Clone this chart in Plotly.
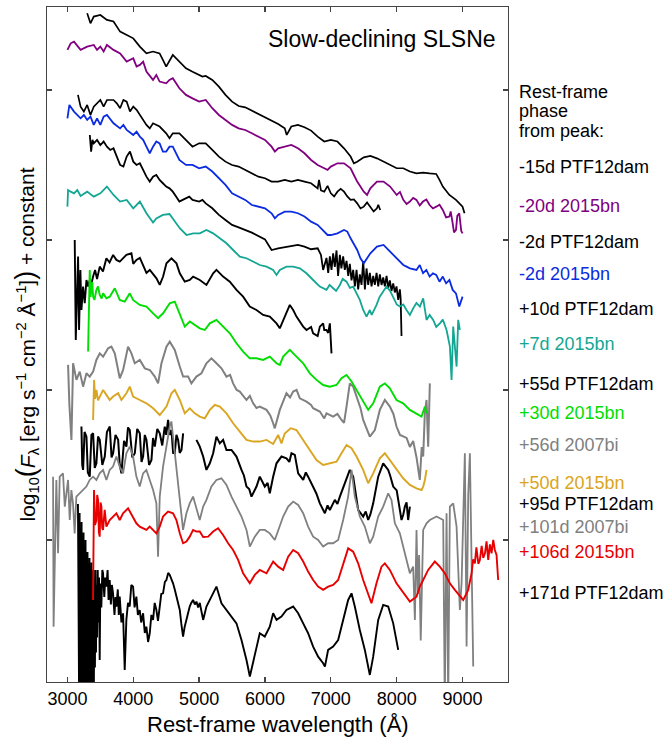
import plotly.graph_objects as go

# ---------------- data: rest-frame wavelength (A) and log10 flux + constant ----------------
# PTF12dam -15d
WL_P_M15 = [3300, 3350, 3400, 3500, 3600, 3700, 3800, 3900, 4000, 4100, 4200, 4300, 4400, 4450, 4500, 4600, 4700, 4800, 4900, 5000,
            5050, 5100, 5200, 5300, 5400, 5500, 5600, 5700, 5800, 5900, 6000, 6100, 6200, 6300, 6330, 6400, 6500, 6600, 6700, 6800,
            6900, 7000, 7100, 7200, 7300, 7350, 7400, 7500, 7600, 7700, 7800, 7900, 8000, 8100, 8200, 8300, 8400, 8500, 8600, 8650,
            8700, 8800, 8900, 9000, 9030]
FL_P_M15 = [3.511, 3.444, 3.489, 3.5, 3.467, 3.456, 3.389, 3.367, 3.344, 3.289, 3.244, 3.256, 3.244, 3.2, 3.156, 3.233, 3.189, 3.144, 3.122, 3.1,
            3.089, 3.093, 3.067, 3.022, 2.967, 2.922, 2.893, 2.884, 2.862, 2.84, 2.822, 2.8, 2.773, 2.744, 2.7, 2.756, 2.767, 2.751, 2.729, 2.689,
            2.656, 2.667, 2.656, 2.611, 2.556, 2.511, 2.522, 2.551, 2.56, 2.544, 2.522, 2.5, 2.478, 2.478, 2.456, 2.444, 2.449, 2.444, 2.44, 2.4,
            2.356, 2.3, 2.267, 2.222, 2.178]

# SN 2015bn -20d
WL_B_M20 = [3000, 3050, 3100, 3200, 3300, 3400, 3450, 3500, 3550, 3600, 3700, 3800, 3900, 4000, 4050, 4100, 4150, 4200, 4300, 4350,
            4400, 4500, 4550, 4600, 4700, 4800, 4900, 5000, 5100, 5200, 5300, 5400, 5500, 5600, 5700, 5800, 5900, 6000, 6100, 6150,
            6200, 6300, 6400, 6500, 6600, 6700, 6800, 6900, 6950, 7000, 7100, 7200, 7300, 7350, 7400, 7500, 7550, 7600, 7700, 7800,
            7900, 8000, 8050, 8100, 8150, 8200, 8250, 8300, 8350, 8400, 8450, 8500, 8550, 8600, 8650, 8700, 8750, 8800, 8820, 8850,
            8870, 8900, 8920, 8950, 8980, 9000]
FL_B_M20 = [3.267, 3.311, 3.322, 3.267, 3.289, 3.3, 3.267, 3.289, 3.256, 3.3, 3.267, 3.244, 3.189, 3.211, 3.156, 3.167, 3.189, 3.122, 3.067, 3.1,
            3.056, 3.044, 3.067, 3.078, 3.011, 2.967, 2.944, 2.922, 2.933, 2.878, 2.833, 2.8, 2.767, 2.744, 2.733, 2.711, 2.689, 2.667, 2.622, 2.589,
            2.611, 2.622, 2.633, 2.611, 2.578, 2.533, 2.5, 2.478, 2.467, 2.489, 2.511, 2.511, 2.478, 2.433, 2.389, 2.322, 2.3, 2.344, 2.389, 2.389,
            2.356, 2.3, 2.32, 2.267, 2.24, 2.256, 2.28, 2.267, 2.23, 2.256, 2.27, 2.233, 2.21, 2.222, 2.235, 2.2, 2.15, 2.156, 2.19, 2.111,
            2.05, 2.067, 2.16, 2.178, 2.06, 2.044]

# PTF12dam -2d
WL_P_M2 = [3160, 3200, 3250, 3300, 3350, 3400, 3500, 3550, 3600, 3700, 3750, 3800, 3850, 3900, 3950, 4000, 4050, 4100, 4200, 4250,
           4300, 4400, 4500, 4550, 4600, 4700, 4800, 4900, 5000, 5100, 5200, 5300, 5400, 5500, 5600, 5700, 5800, 5900, 6000, 6100,
           6200, 6300, 6400, 6500, 6600, 6700, 6800, 6820, 6850, 6900, 6950, 7000, 7050, 7100, 7150, 7200, 7250, 7300, 7350, 7400,
           7450, 7500, 7550, 7600, 7650, 7700, 7720, 7750]
FL_P_M2 = [2.967, 2.889, 2.856, 2.9, 2.833, 2.889, 2.933, 2.889, 2.933, 2.933, 2.911, 2.878, 2.933, 2.922, 2.856, 2.889, 2.867, 2.833, 2.767, 2.744,
           2.778, 2.756, 2.711, 2.678, 2.711, 2.711, 2.667, 2.622, 2.644, 2.644, 2.6, 2.556, 2.522, 2.5, 2.489, 2.467, 2.444, 2.422, 2.411, 2.389,
           2.389, 2.4, 2.389, 2.4, 2.389, 2.378, 2.344, 2.40, 2.33, 2.322, 2.36, 2.311, 2.29, 2.322, 2.34, 2.322, 2.29, 2.267, 2.27, 2.244,
           2.21, 2.222, 2.25, 2.222, 2.19, 2.211, 2.235, 2.2]

# SN 2015bn -2d
WL_B_M2 = [3000, 3030, 3100, 3200, 3250, 3300, 3350, 3400, 3450, 3500, 3550, 3600, 3700, 3800, 3850, 3900, 4000, 4050, 4100, 4150,
           4200, 4250, 4300, 4350, 4400, 4450, 4500, 4550, 4600, 4700, 4800, 4900, 5000, 5100, 5200, 5300, 5400, 5500, 5600, 5700,
           5800, 5900, 6000, 6100, 6150, 6200, 6300, 6400, 6500, 6600, 6700, 6800, 6900, 6950, 7000, 7100, 7200, 7250, 7300, 7400,
           7450, 7500, 7550, 7600, 7700, 7800, 7900, 8000, 8050, 8100, 8150, 8200, 8300, 8350, 8400, 8450, 8500, 8550, 8600, 8650,
           8700, 8750, 8800, 8850, 8900, 8950, 9000]
FL_B_M2 = [2.811, 2.9, 2.856, 2.811, 2.833, 2.8, 2.822, 2.767, 2.811, 2.767, 2.822, 2.833, 2.778, 2.744, 2.767, 2.733, 2.7, 2.722, 2.689, 2.667,
           2.622, 2.578, 2.622, 2.656, 2.644, 2.589, 2.589, 2.622, 2.622, 2.533, 2.5, 2.5, 2.478, 2.489, 2.456, 2.411, 2.367, 2.311, 2.289, 2.267,
           2.233, 2.222, 2.211, 2.178, 2.144, 2.167, 2.189, 2.189, 2.178, 2.156, 2.122, 2.1, 2.056, 2.033, 2.033, 2.044, 2.067, 2.056, 2.011, 1.933,
           1.878, 1.844, 1.878, 1.911, 1.956, 1.967, 1.922, 1.878, 1.856, 1.833, 1.822, 1.811, 1.8, 1.833, 1.778, 1.8, 1.756, 1.778, 1.767, 1.722,
           1.756, 1.711, 1.733, 1.667, 1.644, 1.556, 1.622]

# PTF12dam +10d
WL_P_P10 = [3340, 3360, 3380, 3400, 3450, 3500, 3550, 3600, 3650, 3700, 3750, 3800, 3850, 3900, 3950, 4000, 4050, 4100, 4150, 4200,
            4250, 4300, 4350, 4400, 4450, 4500, 4550, 4600, 4650, 4700, 4750, 4800, 4850, 4900, 5000, 5050, 5100, 5200, 5300, 5400,
            5500, 5600, 5800, 6000, 6100, 6200, 6300, 6400, 6500, 6600, 6700, 6800, 6850, 6883, 6934, 6960, 6985, 7010, 7035, 7060,
            7086, 7110, 7137, 7160, 7187, 7212, 7238, 7264, 7288, 7314, 7339, 7365, 7390, 7415, 7440, 7466, 7491, 7517, 7542, 7567,
            7592, 7618, 7643, 7668, 7694, 7720, 7744, 7770, 7795, 7820, 7846, 7871, 7896, 7921, 7947, 7972, 7997, 8023, 8048, 8060,
            8073]
FL_P_P10 = [2.7, 2.589, 2.667, 2.644, 2.667, 2.633, 2.656, 2.622, 2.6, 2.611, 2.556, 2.5, 2.489, 2.556, 2.589, 2.522, 2.5, 2.511, 2.467, 2.422,
            2.389, 2.422, 2.433, 2.4, 2.378, 2.356, 2.344, 2.322, 2.289, 2.256, 2.267, 2.278, 2.289, 2.267, 2.256, 2.267, 2.244, 2.211, 2.167, 2.133,
            2.1, 2.084, 2.049, 2.004, 1.933, 1.944, 1.951, 1.96, 1.967, 1.956, 1.938, 1.944, 1.90, 1.80, 1.88, 1.78, 1.89, 1.80, 1.91, 1.82,
            1.93, 1.76, 1.90, 1.81, 1.89, 1.80, 1.86, 1.76, 1.84, 1.73, 1.80, 1.69, 1.80, 1.67, 1.77, 1.70, 1.86, 1.67, 1.81, 1.70,
            1.78, 1.69, 1.76, 1.70, 1.78, 1.69, 1.77, 1.70, 1.75, 1.69, 1.76, 1.68, 1.73, 1.66, 1.71, 1.65, 1.69, 1.60, 1.67, 1.61,
            1.36]

# SN 2015bn +7d
WL_B_P7 = [3000, 3010, 3050, 3100, 3150, 3200, 3300, 3400, 3500, 3600, 3700, 3800, 3900, 3950, 4000, 4100, 4200, 4300, 4350, 4450,
           4550, 4706, 4808, 4909, 5010, 5111, 5213, 5314, 5415, 5516, 5618, 5719, 5820, 5921, 6023, 6124, 6175, 6225, 6326, 6428,
           6529, 6630, 6731, 6833, 6934, 6980, 7035, 7080, 7137, 7180, 7238, 7290, 7339, 7440, 7491, 7542, 7592, 7620, 7694, 7740,
           7795, 7846, 7900, 7947, 8000, 8048, 8100, 8149, 8200, 8250, 8300, 8352, 8402, 8453, 8500, 8554, 8600, 8656, 8700, 8757,
           8808, 8833, 8858, 8909, 8934, 8959]
FL_B_P7 = [2.222, 2.333, 2.322, 2.311, 2.333, 2.293, 2.322, 2.289, 2.311, 2.356, 2.3, 2.256, 2.267, 2.24, 2.211, 2.256, 2.178, 2.116, 2.144, 2.167,
           2.173, 2.078, 2.033, 2.044, 2.044, 2.067, 2.044, 2.011, 1.978, 1.933, 1.889, 1.878, 1.856, 1.833, 1.822, 1.8, 1.767, 1.8, 1.822, 1.822,
           1.811, 1.778, 1.733, 1.689, 1.667, 1.70, 1.678, 1.66, 1.7, 1.74, 1.722, 1.68, 1.689, 1.6, 1.533, 1.489, 1.533, 1.50, 1.567, 1.62,
           1.656, 1.689, 1.66, 1.622, 1.57, 1.556, 1.57, 1.533, 1.50, 1.544, 1.58, 1.556, 1.611, 1.467, 1.50, 1.467, 1.42, 1.444, 1.47, 1.4,
           1.289, 1.067, 1.422, 1.156, 1.467, 1.4]

# PTF12dam +55d
WL_P_P55 = [3111, 3127, 3162, 3177, 3197, 3213, 3238, 3263, 3289, 3314, 3339, 3360, 3390, 3420, 3450, 3491, 3540, 3592, 3640, 3694,
            3744, 3795, 3896, 3972, 4000, 4048, 4100, 4149, 4200, 4251, 4352, 4402, 4453, 4504, 4580, 4656, 4706, 4782, 4858, 4909,
            5010, 5111, 5213, 5263, 5364, 5466, 5567, 5668, 5769, 5871, 5972, 6073, 6175, 6225, 6276, 6377, 6428, 6478, 6580, 6630,
            6700, 6731, 6800, 6833, 6883, 6900, 6934, 6960, 6985, 7010]
FL_P_P55 = [2.0, 1.333, 1.889, 1.4, 1.8, 1.533, 1.689, 1.578, 1.733, 1.689, 1.733, 1.70, 1.756, 1.80, 1.74, 1.822, 1.79, 1.878, 1.85, 1.9,
            1.867, 1.856, 1.9, 1.911, 1.84, 1.867, 1.88, 1.833, 1.78, 1.8, 1.744, 1.7, 1.756, 1.844, 1.878, 1.844, 1.778, 1.722, 1.733, 1.756,
            1.733, 1.7, 1.778, 1.8, 1.756, 1.722, 1.667, 1.622, 1.556, 1.533, 1.5, 1.489, 1.444, 1.411, 1.467, 1.567, 1.533, 1.489, 1.422, 1.4,
            1.42, 1.378, 1.36, 1.422, 1.444, 1.40, 1.4, 1.38, 1.444, 1.244]

# SN 2015bn +30d
WL_B_P30 = [3314, 3339, 3352, 3365, 3378, 3390, 3410, 3440, 3465, 3491, 3520, 3542, 3592, 3643, 3719, 3795, 3871, 3947, 3997, 4099,
            4200, 4301, 4377, 4453, 4554, 4630, 4706, 4782, 4858, 4934, 5010, 5086, 5162, 5263, 5364, 5466, 5567, 5668, 5769, 5871,
            5972, 6073, 6175, 6225, 6276, 6377, 6478, 6580, 6681, 6782, 6883, 6985, 7086, 7162, 7238, 7314, 7390, 7491, 7567, 7643,
            7744, 7820, 7896, 7997, 8098, 8200, 8301, 8377, 8428, 8453]
FL_B_P30 = [1.256, 1.8, 1.62, 1.689, 1.72, 1.622, 1.60, 1.667, 1.69, 1.633, 1.61, 1.644, 1.611, 1.622, 1.678, 1.6, 1.589, 1.644, 1.6, 1.567,
            1.556, 1.511, 1.478, 1.511, 1.578, 1.589, 1.511, 1.422, 1.456, 1.433, 1.411, 1.4, 1.444, 1.467, 1.422, 1.378, 1.311, 1.256, 1.211, 1.211,
            1.2, 1.222, 1.178, 1.167, 1.222, 1.267, 1.222, 1.178, 1.111, 1.067, 1.033, 1.022, 1.033, 1.078, 1.1, 1.056, 1.0, 0.922, 0.867, 0.911,
            1.022, 1.044, 1.011, 0.933, 0.911, 0.867, 0.844, 0.822, 0.889, 0.844]

# SN 2007bi +56d
WL_I_P56 = [3010, 3030, 3061, 3086, 3137, 3187, 3238, 3289, 3339, 3390, 3440, 3491, 3542, 3618, 3668, 3719, 3795, 3846, 3921, 3972,
            4023, 4099, 4175, 4251, 4327, 4377, 4428, 4504, 4554, 4630, 4706, 4757, 4833, 4883, 4959, 5035, 5111, 5187, 5263, 5339,
            5415, 5470, 5516, 5570, 5618, 5719, 5770, 5820, 5870, 5921, 6023, 6080, 6124, 6149, 6225, 6326, 6380, 6428, 6480, 6529,
            6630, 6700, 6731, 6833, 6900, 6934, 7035, 7100, 7162, 7200, 7238, 7288, 7339, 7415, 7450, 7491, 7550, 7592, 7668, 7744,
            7820, 7896, 7950, 7997, 8050, 8098, 8150, 8200, 8250, 8301, 8351, 8380, 8402, 8427, 8453, 8478, 8503]
FL_I_P56 = [1.167, 0.9, 0.667, 1.178, 1.067, 1.122, 1.022, 1.111, 1.089, 1.122, 1.2, 1.244, 1.222, 1.278, 1.289, 1.244, 1.078, 1.133, 1.289, 1.244,
            1.178, 1.2, 1.144, 1.133, 1.089, 1.044, 1.178, 1.289, 1.322, 1.267, 1.156, 1.089, 1.089, 1.044, 1.089, 1.111, 1.178, 1.211, 1.178, 1.144,
            1.089, 1.10, 1.044, 1.00, 0.989, 0.933, 0.96, 0.911, 0.88, 0.889, 0.867, 0.83, 0.778, 0.744, 0.867, 0.978, 0.95, 0.989, 1.00, 0.944,
            0.922, 0.90, 0.878, 0.856, 0.81, 0.844, 0.822, 0.84, 0.8, 0.78, 0.889, 1.044, 1.022, 0.933, 0.88, 0.8, 0.74, 0.689, 0.733, 0.867,
            0.933, 0.889, 0.84, 0.756, 0.70, 0.689, 0.68, 0.62, 0.66, 0.55, 0.40, 0.62, 0.556, 0.844, 0.933, 0.622, 1.044]

# SN 2015bn +50d
WL_B_P50 = [3390, 3405, 3420, 3440, 3465, 3491, 3542, 3592, 3643, 3694, 3770, 3820, 3896, 3947, 3997, 4099, 4200, 4301, 4402, 4504,
            4580, 4630, 4706, 4782, 4858, 4934, 5010, 5086, 5162, 5238, 5314, 5415, 5516, 5618, 5719, 5820, 5921, 6023, 6124, 6200,
            6250, 6300, 6390, 6478, 6580, 6681, 6782, 6883, 6985, 7086, 7162, 7238, 7314, 7390, 7491, 7567, 7643, 7744, 7820, 7896,
            7997, 8098, 8200, 8301, 8377, 8402, 8428, 8453]
FL_B_P50 = [0.8, 1.067, 0.94, 1.0, 0.93, 0.956, 1.0, 0.967, 0.933, 0.956, 0.978, 0.933, 0.978, 1.022, 0.956, 0.933, 0.911, 0.878, 0.833, 0.889,
            0.978, 1.0, 0.933, 0.844, 0.878, 0.844, 0.822, 0.811, 0.867, 0.9, 0.889, 0.844, 0.778, 0.722, 0.667, 0.656, 0.656, 0.667, 0.64, 0.70,
            0.644, 0.71, 0.745, 0.733, 0.667, 0.6, 0.533, 0.5, 0.511, 0.522, 0.578, 0.633, 0.611, 0.556, 0.467, 0.378, 0.444, 0.544, 0.578, 0.533,
            0.467, 0.411, 0.367, 0.344, 0.333, 0.356, 0.4, 0.467]

# PTF12dam +95d (blue side and red side, with a gap between)
WL_P_P95_BLUE = [3213, 3225, 3238, 3260, 3289, 3310, 3339, 3365, 3390, 3415, 3440, 3465, 3491, 3530, 3567, 3600, 3643, 3670, 3694, 3730,
                 3770, 3795, 3820, 3860, 3896, 3920, 3947, 3985, 4023, 4060, 4099, 4125, 4149, 4175, 4200, 4240, 4276, 4300, 4327, 4365,
                 4402, 4440, 4478, 4500, 4529, 4555, 4580, 4605, 4630, 4655, 4681, 4705, 4732, 4757]
FL_P_P95_BLUE = [0.756, 0.50, 0.467, 0.72, 0.689, 0.45, 0.422, 0.70, 0.711, 0.48, 0.511, 0.69, 0.667, 0.50, 0.556, 0.72, 0.756, 0.55, 0.578, 0.70,
                 0.667, 0.50, 0.444, 0.66, 0.622, 0.75, 0.733, 0.55, 0.578, 0.74, 0.711, 0.52, 0.556, 0.70, 0.667, 0.50, 0.533, 0.68, 0.622, 0.74,
                 0.711, 0.63, 0.756, 0.70, 0.8, 0.70, 0.733, 0.58, 0.578, 0.70, 0.667, 0.58, 0.6, 0.711]
WL_P_P95_RED = [4959, 5010, 5061, 5111, 5162, 5213, 5263, 5314, 5364, 5415, 5491, 5567, 5643, 5680, 5719, 5760, 5795, 5840, 5871, 5921,
                5997, 6040, 6073, 6124, 6175, 6250, 6326, 6370, 6402, 6453, 6504, 6580, 6620, 6655, 6731, 6780, 6833, 6909, 6950, 6985,
                7061, 7100, 7137, 7212, 7250, 7288, 7339, 7415, 7491, 7530, 7567, 7600, 7643, 7719, 7795, 7871, 7900, 7947, 8000, 8023,
                8073, 8100, 8124, 8150, 8174, 8200]
FL_P_P95_RED = [0.667, 0.622, 0.556, 0.467, 0.511, 0.578, 0.689, 0.644, 0.667, 0.6, 0.6, 0.556, 0.467, 0.43, 0.356, 0.34, 0.289, 0.33, 0.356, 0.422,
                0.356, 0.38, 0.311, 0.422, 0.511, 0.556, 0.544, 0.52, 0.578, 0.567, 0.444, 0.4, 0.45, 0.422, 0.356, 0.31, 0.244, 0.178, 0.23, 0.2,
                0.267, 0.24, 0.289, 0.378, 0.42, 0.467, 0.422, 0.2, 0.156, 0.19, 0.133, 0.17, 0.244, 0.422, 0.511, 0.467, 0.43, 0.356, 0.33, 0.267,
                0.133, 0.17, 0.222, 0.25, 0.133, 0.222]

# SN 2007bi +101d
WL_I_P101 = [2782, 2790, 2832, 2858, 2883, 2933, 2960, 3010, 3035, 3060, 3085, 3110, 3136, 3187, 3237, 3288, 3338, 3389, 3440, 3490,
             3541, 3592, 3642, 3693, 3744, 3794, 3845, 3895, 3946, 3997, 4047, 4098, 4149, 4199, 4250, 4301, 4351, 4376, 4402, 4452,
             4503, 4554, 4579, 4604, 4655, 4706, 4756, 4807, 4857, 4908, 4959, 5009, 5061, 5111, 5187, 5263, 5339, 5415, 5491, 5567,
             5643, 5719, 5770, 5845, 5921, 5997, 6073, 6149, 6200, 6276, 6352, 6428, 6504, 6580, 6655, 6731, 6807, 6883, 6959, 7035,
             7111, 7187, 7263, 7314, 7364, 7440, 7516, 7592, 7643, 7719, 7795, 7871, 7921, 7972, 8048, 8098, 8149, 8200, 8250, 8276,
             8301, 8320, 8340, 8365, 8402, 8453, 8503, 8605, 8706, 8730, 8757, 8782, 8807, 8858, 8909, 8934, 8959, 8985, 9010, 9035,
             9061, 9086, 9111, 9137, 9162]
FL_I_P101 = [0.422, -0.578, 0.4, -0.089, 0.422, 0.444, 0.222, 0.4, 0.133, 0.333, 0.244, 0.044, 0.289, 0.311, 0.333, 0.356, 0.4, 0.422, 0.4, 0.444,
             0.467, 0.4, 0.467, 0.489, 0.556, 0.489, 0.444, 0.578, 0.622, 0.556, 0.422, 0.356, 0.444, 0.467, 0.4, 0.333, 0.244, -0.111, 0.289, 0.489,
             0.622, 0.756, 0.79, 0.689, 0.444, 0.267, 0.067, 0.178, 0.244, 0.289, 0.2, 0.133, 0.222, 0.267, 0.356, 0.4, 0.411, 0.367, 0.289, 0.222,
             0.156, 0.067, -0.044, 0.022, 0.067, 0.067, 0.044, 0.0, 0.067, 0.156, 0.222, 0.256, 0.233, 0.178, 0.089, 0.022, 0.0, -0.044, -0.022, -0.022,
             0.0, 0.133, 0.289, 0.467, 0.289, 0.156, 0.089, -0.022, 0.022, 0.156, 0.222, 0.311, 0.267, 0.111, 0.044, -0.044, -0.133, -0.222, -0.178, -0.533,
             0.067, -0.36, -0.1, -0.67, 0.067, 0.111, 0.133, 0.156, 0.133, -1.1, 0.178, -1.1, 0.222, 0.244, 0.089, -0.178, -0.467, -0.289, 0.178, 0.578,
             -0.711, 0.3, 0.578, -0.044, -0.844]

# SN 2015bn +106d
WL_B_P106 = [3389, 3404, 3420, 3440, 3452, 3465, 3478, 3490, 3503, 3516, 3528, 3541, 3566, 3592, 3642, 3693, 3744, 3794, 3845, 3921,
             3997, 4047, 4098, 4149, 4199, 4250, 4301, 4351, 4402, 4452, 4528, 4604, 4655, 4706, 4756, 4807, 4857, 4908, 4959, 5009,
             5061, 5137, 5213, 5288, 5364, 5440, 5516, 5592, 5668, 5769, 5845, 5921, 6023, 6124, 6200, 6276, 6352, 6428, 6504, 6580,
             6655, 6731, 6807, 6883, 6959, 7035, 7111, 7187, 7263, 7339, 7415, 7491, 7567, 7617, 7693, 7769, 7820, 7896, 7997, 8073,
             8149, 8200, 8301, 8351, 8402, 8478, 8579, 8655, 8731, 8807, 8883, 8959, 9010, 9086, 9137, 9160, 9187, 9210, 9240, 9263,
             9290, 9314, 9340, 9364, 9390, 9415, 9440, 9466, 9490, 9516, 9541]
FL_B_P106 = [-0.4, 0.333, 0.10, 0.133, 0.30, 0.267, 0.05, 0.022, 0.25, 0.222, 0.08, 0.067, 0.2, 0.089, 0.133, 0.156, 0.178, 0.133, 0.178, 0.211,
             0.156, 0.111, 0.089, 0.078, 0.067, 0.089, 0.067, 0.044, 0.089, 0.156, 0.189, 0.178, 0.133, 0.044, -0.022, -0.011, 0.022, 0.067, 0.056, 0.056,
             0.02, 0.022, 0.056, 0.078, 0.033, -0.022, -0.067, -0.133, -0.222, -0.289, -0.233, -0.2, -0.222, -0.144, -0.178, -0.2, -0.111, -0.067, -0.089, -0.144,
             -0.211, -0.267, -0.311, -0.333, -0.311, -0.3, -0.267, -0.156, -0.056, -0.078, -0.156, -0.267, -0.356, -0.422, -0.289, -0.178, -0.156, -0.2, -0.289, -0.333,
             -0.378, -0.411, -0.378, -0.311, -0.267, -0.2, -0.144, -0.178, -0.222, -0.289, -0.333, -0.378, -0.4, -0.333, -0.222, -0.13, -0.156, -0.05, -0.16, -0.133,
             -0.04, -0.12, -0.089, -0.01, -0.133, -0.03, -0.089, 0.0, -0.067, -0.10, -0.267]

# PTF12dam +171d
WL_P_P171 = [3160, 3165, 3172, 3178, 3185, 3192, 3200, 3207, 3215, 3222, 3230, 3237, 3245, 3252, 3260, 3267, 3275, 3282, 3290, 3297,
             3305, 3312, 3320, 3327, 3335, 3342, 3350, 3357, 3365, 3372, 3380, 3387, 3395, 3402, 3410, 3418, 3426, 3434, 3442, 3450,
             3460, 3470, 3480, 3490, 3500, 3515, 3530, 3541, 3560, 3575, 3592, 3610, 3625, 3642, 3660, 3675, 3693, 3715, 3730, 3744,
             3765, 3780, 3794, 3820, 3845, 3870, 3895, 3920, 3946, 3970, 3997, 4020, 4047, 4070, 4098, 4120, 4149, 4175, 4199, 4225,
             4250, 4275, 4301, 4325, 4351, 4375, 4402, 4425, 4452, 4480, 4503, 4530, 4554, 4580, 4604, 4630, 4655, 4680, 4706, 4730,
             4756, 4780, 4807, 4830, 4857, 4880, 4908, 4935, 4959, 4985, 5010, 5061, 5111, 5187, 5263, 5339, 5415, 5491, 5567, 5643,
             5719, 5770, 5845, 5921, 5997, 6073, 6124, 6175, 6250, 6326, 6428, 6504, 6580, 6655, 6731, 6807, 6883, 6910, 6959, 7035,
             7111, 7187, 7263, 7314, 7364, 7440, 7516, 7592, 7643, 7719, 7795, 7871, 7947, 8023]
FL_P_P171 = [0.24, -1.1, 0.05, -1.1, 0.18, -1.1, -0.02, -1.1, 0.12, -1.1, -0.08, -1.1, 0.05, -1.1, -0.12, -1.1, 0.0, -1.1, -0.18, -1.1,
             -0.08, -1.1, -0.22, -1.1, -0.12, -1.1, -0.25, -1.1, -0.15, -1.05, -0.3, -1.0, -0.2, -0.95, -0.28, -0.85, -0.2, -0.75, -0.3, -0.65,
             -0.2, -0.55, -0.25, -0.8, -0.29, -0.45, -0.2, -0.222, -0.38, -0.25, -0.311, -0.2, -0.40, -0.267, -0.43, -0.30, -0.356, -0.50, -0.38, -0.444,
             -0.33, -0.50, -0.378, -0.55, -0.489, -0.867, -0.533, -0.42, -0.444, -0.30, -0.311, -0.45, -0.378, -0.50, -0.467, -0.55, -0.489, -0.62, -0.578, -0.68,
             -0.622, -0.50, -0.533, -0.42, -0.467, -0.54, -0.444, -0.36, -0.356, -0.28, -0.267, -0.22, -0.233, -0.26, -0.289, -0.33, -0.378, -0.42, -0.467, -0.56,
             -0.644, -0.58, -0.533, -0.48, -0.444, -0.42, -0.4, -0.43, -0.411, -0.45, -0.42, -0.533, -0.444, -0.378, -0.311, -0.422, -0.467, -0.511, -0.556, -0.667,
             -0.8, -0.91, -0.756, -0.622, -0.644, -0.578, -0.489, -0.533, -0.511, -0.467, -0.444, -0.489, -0.556, -0.622, -0.711, -0.778, -0.822, -0.844, -0.733, -0.711,
             -0.667, -0.533, -0.4, -0.356, -0.444, -0.6, -0.733, -0.9, -0.778, -0.533, -0.433, -0.444, -0.556, -0.733]

# labels (top to bottom) and their colours
LABELS = ["-15d PTF12dam", "-20d 2015bn", "-2d PTF12dam", "-2d 2015bn", "+10d PTF12dam", "+7d 2015bn",
          "+55d PTF12dam", "+30d 2015bn", "+56d 2007bi", "+50d 2015bn", "+95d PTF12dam", "+101d 2007bi",
          "+106d 2015bn", "+171d PTF12dam"]
LABEL_Y_PX = [167, 206, 242, 274, 309, 344, 384, 413, 445, 483, 504, 527, 552, 593]

BLACK = "#000000"
PURPLE = "#800080"
BLUE = "#0b2be0"
TEAL = "#13a693"
GREEN = "#00dd00"
GRAY = "#808080"
GOLD = "#daa520"
RED = "#e80000"
LABEL_COLORS = [BLACK, PURPLE, BLACK, BLUE, BLACK, TEAL, BLACK, GREEN, GRAY, GOLD, BLACK, GRAY, RED, BLACK]

X_TICKS = [3000, 4000, 5000, 6000, 7000, 8000, 9000]
X_RANGE = [2690, 9690]
Y_RANGE = [-0.947, 3.553]

# ---------------- figure ----------------
P95_WL = WL_P_P95_BLUE + [None] + WL_P_P95_RED
P95_FL = FL_P_P95_BLUE + [None] + FL_P_P95_RED

# drawing order: PTF12dam, then 2007bi, then 2015bn
series = [
    (WL_P_M15, FL_P_M15, BLACK, 1.7),
    (WL_P_M2, FL_P_M2, BLACK, 1.7),
    (WL_P_P10, FL_P_P10, BLACK, 1.8),
    (WL_P_P55, FL_P_P55, BLACK, 1.9),
    (P95_WL, P95_FL, BLACK, 2.0),
    (WL_P_P171, FL_P_P171, BLACK, 1.9),
    (WL_I_P56, FL_I_P56, GRAY, 2.0),
    (WL_I_P101, FL_I_P101, GRAY, 1.8),
    (WL_B_M20, FL_B_M20, PURPLE, 1.8),
    (WL_B_M2, FL_B_M2, BLUE, 1.8),
    (WL_B_P7, FL_B_P7, TEAL, 1.8),
    (WL_B_P30, FL_B_P30, GREEN, 1.9),
    (WL_B_P50, FL_B_P50, GOLD, 1.9),
    (WL_B_P106, FL_B_P106, RED, 1.9),
]

fig = go.Figure()
for wl, fl, col, lw in series:
    n = min(len(wl), len(fl))
    fig.add_trace(go.Scatter(x=wl[:n], y=fl[:n], mode="lines",
                             line=dict(color=col, width=lw), hoverinfo="skip",
                             showlegend=False, connectgaps=False))

FONT = "Liberation Sans, Arial, Helvetica, sans-serif"
L, R, T, B = 47, 155, 7, 58
W, H = 663, 740
PW, PH = W - L - R, H - T - B

ann = []
for txt, ypx in (("Rest-frame", 92), ("phase", 111), ("from peak:", 131)):
    ann.append(dict(text=txt, x=(517 - L) / PW, y=(H - B - ypx) / PH, xref="paper", yref="paper",
                    xanchor="left", yanchor="middle", showarrow=False,
                    font=dict(family=FONT, size=18, color="#000000")))
for lab, ypx, col in zip(LABELS, LABEL_Y_PX, LABEL_COLORS):
    ann.append(dict(text=lab, x=(517 - L) / PW, y=(H - B - ypx) / PH, xref="paper", yref="paper",
                    xanchor="left", yanchor="middle", showarrow=False,
                    font=dict(family=FONT, size=18, color=col)))
ann.append(dict(text="Slow-declining SLSNe", x=(382 - L) / PW, y=(H - B - 39) / PH, xref="paper", yref="paper",
                xanchor="center", yanchor="middle", showarrow=False,
                font=dict(family=FONT, size=23, color="#000000")))
ann.append(dict(text="Rest-frame wavelength (Å)", x=0.5, y=(H - B - 724) / PH, xref="paper", yref="paper",
                xanchor="center", yanchor="middle", showarrow=False,
                font=dict(family=FONT, size=22, color="#000000")))
ann.append(dict(text=("log<sub>10</sub><span style='font-size:27px'>(</span><i>F</i><sub>λ</sub> [erg s<sup>−1</sup> "
                      "cm<sup>−2</sup> Å<sup>−1</sup>]<span style='font-size:27px'>)</span> + constant"),
                x=(26 - L) / PW, y=0.5, xref="paper", yref="paper", textangle=-90,
                xanchor="center", yanchor="middle", showarrow=False,
                font=dict(family=FONT, size=21, color="#000000")))

axis_common = dict(showline=True, linecolor="#444444", linewidth=1.3, mirror="ticks",
                   ticks="inside", ticklen=5, tickwidth=1.3, tickcolor="#444444",
                   showgrid=False, zeroline=False)

fig.update_layout(
    width=W, height=H,
    margin=dict(l=L, r=R, t=T, b=B, pad=0),
    paper_bgcolor="white", plot_bgcolor="white",
    font=dict(family=FONT, size=18, color="#000000"),
    xaxis=dict(range=X_RANGE, tickvals=X_TICKS, ticktext=[str(v) for v in X_TICKS],
               tickfont=dict(family=FONT, size=18, color="#000000"), **axis_common),
    yaxis=dict(range=Y_RANGE, tickvals=[0, 1, 2, 3], showticklabels=False, **axis_common),
    annotations=ann,
)

fig.write_html("out.html",
               config={"displayModeBar": False, "staticPlot": True},
               post_script="document.body.style.margin='0px';document.body.style.padding='0px';"
                           "document.body.style.overflow='hidden';")
